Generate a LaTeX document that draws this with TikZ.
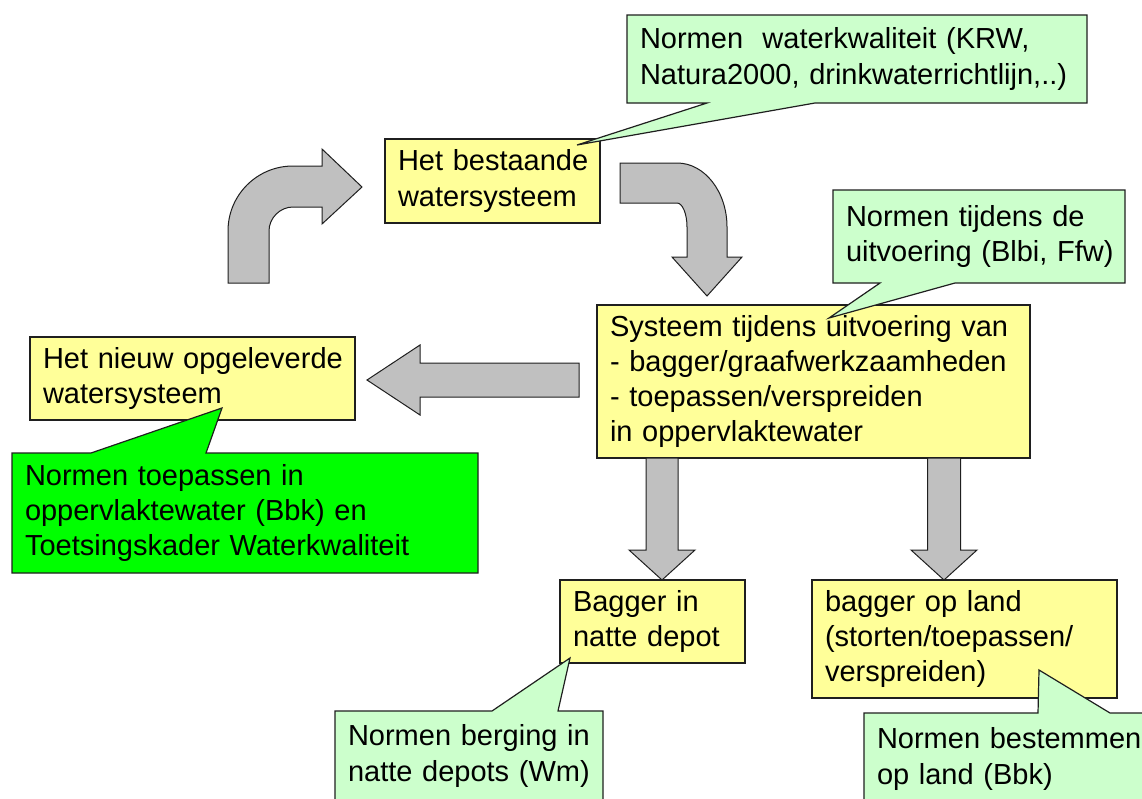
\documentclass[tikz,border=0pt]{standalone}
\usepackage{fontspec}
\setmainfont{Liberation Sans}
\usetikzlibrary{calc,backgrounds}
\definecolor{yfill}{HTML}{FFFF99}
\definecolor{gfill}{HTML}{CCFFCC}
\definecolor{bgfill}{HTML}{00FF00}
\definecolor{afill}{HTML}{C0C0C0}
\definecolor{edgecol}{HTML}{1F1F1F}
\begin{document}
\begin{tikzpicture}[x=1pt,y=-1pt,
  txt/.style={anchor=north west, inner xsep=13pt, inner ysep=0pt, outer sep=0pt,
    align=left, font=\fontsize{29pt}{35.3pt}\selectfont, text=black},
  ybox/.style={fill=yfill, draw=edgecol, line width=1.2pt},
  gbox/.style={fill=gfill, draw=edgecol, line width=1.2pt, line join=miter},
  bgbox/.style={fill=bgfill, draw=edgecol, line width=1.2pt, line join=miter},
  barrow/.style={fill=afill, draw=edgecol, line width=1pt, line join=miter},
]
\useasboundingbox (0,0) rectangle (1142,798);

% ---------- text nodes ----------
\node[txt, text width=434pt, minimum height=88pt] (A) at (627,15)
  {\mbox{Normen\ \ waterkwaliteit (KRW,}\\\mbox{Natura2000, drinkwaterrichtlijn,..)}};
\node[txt, text width=189pt, minimum height=84pt] (B) at (385,139)
  {\mbox{Het bestaande}\\\mbox{watersysteem}};
\node[txt, text width=266pt, minimum height=93pt] (C) at (833,190)
  {\mbox{Normen tijdens de}\\\mbox{uitvoering (Blbi, Ffw)}};
\node[txt, text width=407pt, minimum height=153pt] (D) at (597,305)
  {\mbox{Systeem tijdens uitvoering van}\\\mbox{- bagger/graafwerkzaamheden}\\\mbox{- toepassen/verspreiden}\\\mbox{in oppervlaktewater}};
\node[txt, text width=299pt, minimum height=83pt] (E) at (30,337)
  {\mbox{Het nieuw opgeleverde}\\\mbox{watersysteem}};
\node[txt, text width=440pt, minimum height=120pt] (F) at (12,453)
  {\mbox{Normen toepassen in}\\\mbox{oppervlaktewater (Bbk) en}\\\mbox{Toetsingskader Waterkwaliteit}};
\node[txt, text width=159pt, minimum height=83pt] (G) at (560,580)
  {\mbox{Bagger in}\\\mbox{natte depot}};
\node[txt, text width=279pt, minimum height=118pt] (H) at (812,580)
  {\mbox{bagger op land}\\\mbox{(storten/toepassen/}\\\mbox{verspreiden)}};
\node[txt, text width=242pt, minimum height=90pt] (I) at (335,711)
  {\mbox{Normen berging in}\\\mbox{natte depots (Wm)}};
\node[txt, text width=270pt, minimum height=92pt] (J) at (864,713)
  {\mbox{Normen bestemmen}\\\mbox{op land (Bbk)}};

% ---------- helper coordinates ----------
\coordinate (tA) at ($(B.north east)+(-23,6)$);
\coordinate (tC) at ($(D.north west)+(232,13)$);
\coordinate (tF) at ($(E.south west)+(192,-12)$);
\coordinate (tI) at ($(G.south west)+(10,-5)$);
\coordinate (tJ) at ($(H.south west)+(227,-28)$);
\coordinate (k1) at ($(B.west)+(-23,6)$);
\coordinate (k2) at ($(D.north west)+(110,-9)$);
\coordinate (la1) at ($(D.west)+(-18,-1.5)$);
\coordinate (la2) at ($(E.east)+(12,1.5)$);
\coordinate (da1t) at ($(G.north west)+(102,0)$);
\coordinate (da1s) at (da1t |- D.south);
\coordinate (da2t) at ($(H.north west)+(132,0)$);
\coordinate (da2s) at (da2t |- D.south);

\begin{scope}[on background layer]
\clip (0,0) rectangle (1142,798);
% yellow boxes
\draw[ybox] (B.north west) rectangle (B.south east);
\draw[ybox] (D.north west) rectangle (D.south east);
\draw[ybox] (E.north west) rectangle (E.south east);
\draw[ybox] (G.north west) rectangle (G.south east);
\draw[ybox] (H.north west) rectangle (H.south east);

% curved arrow up-right into B
\draw[barrow, shift={(k1)}] (-134,96) -- (-134,44)
  .. controls (-134,8) and (-105,-21) .. (-69,-21) -- (-40,-21) -- (-40,-38)
  -- (0,0) -- (-40,37) -- (-40,20) -- (-69,20)
  .. controls (-82,20) and (-93,31) .. (-93,44) -- (-93,96) -- cycle;
% curved arrow from B down into D
\draw[barrow, shift={(k2)}] (-87,-133) -- (-30,-133)
  .. controls (-2.4,-133) and (20,-104.3) .. (20,-69) -- (20,-39) -- (35,-39)
  -- (0,0) -- (-35,-39) -- (-20,-39) -- (-20,-69)
  .. controls (-20,-82.3) and (-24.5,-93) .. (-30,-93) -- (-87,-93) -- cycle;
% straight arrow D -> E
\draw[barrow] ($(la1)+(0,-17)$) -- ($(la2)+(53,-17)$) -- ($(la2)+(53,-35)$) -- (la2)
  -- ($(la2)+(53,35)$) -- ($(la2)+(53,17)$) -- ($(la1)+(0,17)$) -- cycle;
% D -> G
\draw[barrow] ($(da1s)+(-16,0)$) -- ($(da1t)+(-16,-30)$) -- ($(da1t)+(-33,-30)$) -- (da1t)
  -- ($(da1t)+(33,-30)$) -- ($(da1t)+(16,-30)$) -- ($(da1s)+(16,0)$) -- cycle;
% D -> H
\draw[barrow] ($(da2s)+(-16.5,0)$) -- ($(da2t)+(-16.5,-30)$) -- ($(da2t)+(-33,-30)$) -- (da2t)
  -- ($(da2t)+(33,-30)$) -- ($(da2t)+(16.5,-30)$) -- ($(da2s)+(16.5,0)$) -- cycle;

% callouts
\draw[gbox] (A.north west) -- (A.north east) -- (A.south east)
  -- ($(A.south west)+(188,0)$) -- (tA) -- ($(A.south west)+(80,0)$) -- (A.south west) -- cycle;
\draw[gbox] (C.north west) -- (C.north east) -- (C.south east)
  -- ($(C.south west)+(122,0)$) -- (tC) -- ($(C.south west)+(47,0)$) -- (C.south west) -- cycle;
\draw[bgbox] (F.north west) -- ($(F.north west)+(79,0)$) -- (tF) -- ($(F.north west)+(194,0)$)
  -- (F.north east) -- (F.south east) -- (F.south west) -- cycle;
\draw[gbox] (I.north west) -- ($(I.north west)+(157,0)$) -- (tI) -- ($(I.north west)+(223,0)$)
  -- (I.north east) -- (I.south east) -- (I.south west) -- cycle;
\draw[gbox] (J.north west) -- ($(J.north west)+(174,0)$) -- (tJ) -- ($(J.north west)+(246,0)$)
  -- (J.north east) -- (J.south east) -- (J.south west) -- cycle;
\end{scope}
\end{tikzpicture}
\end{document}
